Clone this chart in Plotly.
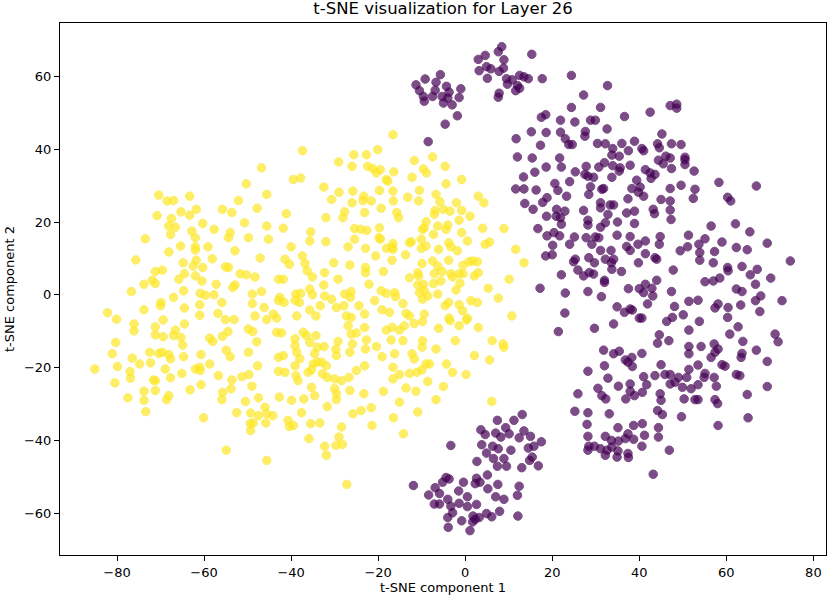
import plotly.graph_objects as go

# label 1 (yellow) points
yellow_x = [
    -11.7, -7.5, -9.6, -8.9, -4.6, -12.2, -4.4, -0.8, -10.5, -6.7, -10.7, -5.8, 3.0, 4.3, -2.0, -6.9, -7.1, -5.0, -3.5, -0.8,
    1.1, -1.4, -9.0, -9.4, -9.8, -6.3, -4.4, -4.0, 4.0, 8.9, -7.3, -0.8, 0.5, -10.1, 4.6, 5.6, -3.8, -3.3, -9.0, -10.1,
    -12.4, -6.1, -1.8, 11.6, 13.5, -3.8, -9.9, -7.5, 0.9, 1.7, 2.8, -0.5, -6.3, -10.9, -10.7, -7.1, -5.3, -3.3, -2.9, -1.4,
    -0.5, 2.1, 3.0, 10.1, -12.8, -5.6, -7.3, -1.2, -10.9, -9.6, 5.3, -2.1, -10.5, -9.4, -8.6, -9.8, -6.3, 1.3, 2.8, 7.6,
    -4.6, -3.8, -1.4, -0.6, -9.4, -12.8, -3.7, 0.5, 10.7,
    -16.6, -37.4, -25.6, -22.7, -20.1, -29.1, -26.0, -22.4, -21.2, -19.5, -20.4, -16.4, -39.5, -37.8, -18.1, -17.8, -32.5,
    -29.0, -30.7, -25.8, -23.3, -23.5, -21.6, -19.7, -16.6, -16.5, -13.2, -26.0, -41.1, -27.7, -28.1, -32.0, -23.1, -19.3,
    -15.7, -15.3, -41.8, -35.5, -35.7, -25.4, -24.0, -22.6, -19.7, -19.8, -19.5, -32.0, -25.4, -16.6, -18.1, -16.8, -12.8,
    -40.0, -26.9, -22.9, -37.4, -41.4, -40.4, -30.2, -26.5, -20.6, -16.8, -16.6, -13.7, -22.9, -22.9, -36.8, -36.3, -32.3,
    -35.1, -29.2, -18.8, -22.1, -19.3, -18.1, -16.2, -32.5, -42.9, -41.8, -38.9, -37.8, -38.1, -39.1, -35.7, -35.1, -32.3,
    -30.7, -27.7, -26.2, -26.4, -24.4, -23.1, -20.8, -16.0, -14.3, -13.6, -19.1, -17.4, -42.6, -42.9, -41.6, -33.3, -29.6,
    -27.9, -27.3, -26.2, -38.7, -34.3, -35.7, -44.1, -43.3,
    -46.8, -50.3, -45.6, -70.4, -68.5, -67.0, -63.3, -52.1, -55.8, -53.6, -47.8, -70.8, -65.3, -63.3, -61.8, -67.5, -60.3,
    -50.7, -45.6, -68.1, -66.6, -67.7, -57.7, -62.8, -62.0, -54.0, -54.4, -49.8, -73.5, -45.2, -65.4, -62.0, -62.0, -59.1,
    -68.1, -52.9, -75.7, -64.8, -62.5, -61.8, -60.3, -58.1, -55.1, -54.4, -47.1, -71.2, -69.6, -71.9, -71.2, -65.8, -64.5,
    -62.0, -60.5, -51.7, -50.3, -48.3, -73.8, -76.7, -57.2, -53.4, -52.9, -64.7, -60.9, -59.7, -57.7, -67.0, -55.9, -48.9,
    -48.9, -46.8, -69.9, -70.0, -64.5, -61.0, -73.8, -82.2, -46.2, -61.0, -56.8, -80.1, -48.3,
    -76.1, -76.1, -71.2, -71.2, -69.4, -66.6, -67.0, -64.5, -65.3, -64.9, -69.4, -58.7, -58.0, -55.8, -54.5, -55.1, -53.1,
    -49.8, -48.8, -47.9, -45.6, -80.3, -81.1, -76.5, -74.8, -72.5, -72.3, -70.4, -69.6, -68.1, -67.7, -64.7, -60.7, -54.9,
    -54.0, -49.8, -85.1, -79.9, -77.0, -76.9, -80.5, -71.6, -71.2, -68.9, -67.7, -65.1, -62.0, -61.0, -60.9, -58.7, -56.7,
    -53.6, -51.3, -49.7, -47.7, -49.0, -60.7, -63.2, -73.8, -73.8, -71.2, -68.1, -68.6, -77.5, -73.4, -55.7, -55.9, -53.8,
    -50.5, -52.5, -47.5, -46.0, -47.5, -45.6, -49.3, -49.4, -49.3, -48.7, -45.8, -60.1, -54.9, -45.6,
    -43.3, -42.2, -39.1, -39.1, -38.7, -39.1, -38.0, -37.2, -36.5, -34.3, -35.7, -34.6, -34.0, -42.9, -41.8, -42.9, -41.4,
    -38.9, -38.4, -36.1, -34.9, -34.0, -35.3, -32.4, -29.7, -29.2, -29.6, -26.5, -25.9, -26.2, -26.9, -25.0, -23.1, -22.7,
    -22.9, -33.0, -31.9, -32.8, -31.7, -30.0, -28.4, -26.7, -25.0, -23.1, -30.0, -26.5, -23.3, -35.3, -34.6, -37.1, -39.9,
    -42.7, -44.2, -40.7, -39.5, -40.4, -37.6, -35.5, -33.4, -31.7, -29.6, -29.6, -28.4, -25.8, -23.9, -21.6, -35.9, -32.3,
    -31.9, -29.0, -29.7, -28.2, -27.2, -21.4, -19.1, -16.2, -16.6, -16.6, -18.8, -16.5, -14.2, -15.1, -13.6, -11.3, -12.8,
    -11.1, -9.9, -8.6, -5.0, -10.9, -6.7, -14.3, -12.2, -11.7, -9.9, -6.7, -4.3, -2.9, 0.2, -9.0, -8.2, -6.1, -3.5, -1.4,
    0.3, 3.0, -2.3, 2.1, 5.6, 6.2, 8.7, 8.9, 6.1, -9.8, -18.1, -16.8, -15.1, -14.0, -11.7, -9.8, -20.4, -17.0, -15.1,
]
yellow_y = [
    36.9, 37.9, 34.6, 33.5, 35.3, 32.3, 30.5, 31.7, 28.7, 27.6, 25.8, 25.6, 27.1, 25.3, 25.3, 23.2, 22.1, 23.5, 23.0, 23.2,
    21.6, 20.5, 20.1, 18.4, 18.0, 18.9, 18.0, 19.2, 18.3, 18.2, 16.6, 17.1, 14.8, 15.3, 13.9, 14.5, 14.3, 13.2, 13.4, 12.8,
    14.6, 12.5, 12.1, 12.5, 8.8, 9.5, 8.6, 9.3, 9.1, 9.3, 9.1, 8.1, 7.9, 6.1, 5.2, 5.8, 6.4, 5.8, 4.9, 5.8,
    5.8, 5.2, 6.1, 4.3, 4.7, 3.8, 3.1, 3.2, 2.7, 2.9, 1.8, 1.3, 0.6, 1.1, -0.3, -1.2, 0.2, -1.6, -2.1, -0.9,
    -3.0, -2.1, -2.7, -4.4, -5.3, -5.8, -6.4, -6.4, -5.8,
    44.0, 39.6, 38.5, 38.5, 39.9, 36.5, 35.3, 35.3, 34.7, 34.4, 33.5, 33.8, 31.7, 32.1, 31.7, 31.2, 29.6,
    28.2, 26.2, 28.5, 27.1, 25.9, 25.8, 28.7, 28.5, 25.8, 26.8, 25.3, 22.3, 22.8, 21.2, 21.2, 22.6, 23.8,
    22.6, 21.2, 18.3, 17.3, 14.8, 18.2, 18.0, 17.7, 18.4, 15.7, 15.3, 14.6, 15.3, 14.1, 12.8, 13.0, 14.3,
    13.2, 13.2, 12.8, 10.7, 9.8, 8.4, 8.8, 8.2, 10.7, 9.5, 12.5, 11.0, 7.5, 6.1, 8.6, 6.6, 6.1,
    4.9, 4.3, 6.4, 2.9, 1.1, 0.4, 0.6, 2.7, 4.3, 4.3, 0.2, 0.4, -2.1, -1.5, 1.6, 0.0, -0.3,
    -1.2, 0.2, 0.9, -0.7, -3.0, -5.3, -1.6, -0.5, -2.4, -5.1, -4.1, -4.8, -0.7, -1.6, -2.1, -3.0, -3.5,
    -3.0, -5.8, -6.2, -5.8, -5.8, -4.2, -5.3, -6.4,
    34.9, 30.5, 27.6, 27.4, 25.8, 25.9, 27.1, 25.9, 23.5, 22.6, 23.8, 21.8, 22.8, 21.9, 23.5, 21.0, 19.6,
    19.8, 18.9, 18.9, 18.6, 16.6, 18.0, 17.5, 15.7, 17.1, 15.7, 15.7, 15.4, 15.3, 13.4, 13.2, 12.3, 13.2,
    11.8, 12.1, 9.6, 8.8, 7.9, 9.5, 7.5, 9.9, 7.7, 7.5, 10.1, 6.4, 6.8, 4.0, 3.1, 4.3, 5.8,
    5.2, 3.8, 5.8, 5.5, 4.9, 2.9, 0.9, 2.9, 2.0, 2.7, 1.1, 0.4, -0.1, 0.0, -0.7, -2.1, 0.2,
    -2.4, 0.9, -2.1, -3.0, -3.6, -2.7, -4.1, -4.9, -3.5, -5.6, -5.1, -6.7, -5.8,
    -8.0, -9.9, -8.8, -11.0, -6.9, -9.7, -11.2, -8.0, -11.7, -13.8, -11.5, -11.9, -12.8, -11.4, -10.1, -6.8, -6.8,
    -9.4, -10.1, -12.9, -6.8, -13.1, -16.2, -17.4, -19.0, -15.8, -18.7, -16.1, -15.8, -16.4, -17.6, -17.0, -16.4, -15.2,
    -17.0, -15.8, -20.4, -19.7, -21.1, -22.9, -24.2, -23.4, -23.6, -20.4, -22.8, -21.6, -20.4, -19.9, -20.8, -19.0, -22.2,
    -23.4, -22.5, -21.9, -19.5, -25.1, -24.7, -26.1, -26.5, -29.0, -26.3, -27.7, -28.8, -28.3, -32.1, -26.8, -28.8, -25.8,
    -29.3, -32.4, -28.3, -30.9, -33.2, -32.7, -32.5, -35.4, -37.3, -35.2, -35.2, -33.8, -42.7, -45.5,
    -10.3, -10.5, -12.1, -14.0, -15.8, -19.5, -17.6, -10.3, -11.2, -11.2, -13.1, -16.2, -14.4, -17.2, -16.7, -21.0, -21.3,
    -22.2, -23.6, -21.3, -19.0, -18.5, -20.6, -14.2, -14.9, -12.8, -16.7, -15.8, -13.5, -10.8, -8.5, -10.5, -9.0, -12.4,
    -14.9, -18.5, -19.5, -21.7, -22.7, -23.1, -23.6, -22.7, -20.8, -19.5, -25.8, -26.3, -27.2, -25.4, -27.7, -28.6, -29.0,
    -28.1, -33.2, -34.5, -35.9, -36.2, -32.4, -35.4, -35.2, -30.7, -28.8, -27.2, -36.3, -32.7, -31.8, -31.0, -39.5, -41.6,
    -44.1, -39.1, -41.4, -41.1, -52.1, -35.9, -17.0, -16.2, -19.9, -23.1, -26.5, -33.8, -38.2, -29.5, -25.6, -26.5, -21.6,
    -21.3, -20.6, -23.8, -25.2, -32.2, -28.8, -12.6, -16.2, -17.6, -14.4, -14.9, -19.0, -21.3, -21.9, -19.0, -19.0, -9.2, -7.1, -8.5,
    -6.9, -9.0, -12.6, -16.7, -17.9, -12.6, -13.5, -14.4, -29.3, -12.6, -9.7, -8.9, -9.7, -8.5, -7.9, -7.3, -14.2, -12.4, -21.9,
]

# label 0 (purple) points
purple_x = [
    13.1, 11.2, 7.4, 3.6, 4.6, 7.0, 9.3, 8.2, 10.1, 12.4, 13.5, 15.0, 17.5, 15.8, 14.5, 3.8, 6.3, 7.6, 10.5, 4.9,
    6.5, 8.9, 15.4, 14.8, 2.7, 7.4, 9.5, 13.0, 16.8, -3.3, 5.1, 2.6, -3.7, -4.4, -5.2, -0.4, 2.3, 3.4, 7.5, 12.4,
    -11.9, -6.9, -5.9, -8.4, -1.5, 5.2, 0.5, 7.0, 8.9, 12.0, -4.0, -7.1, -5.9, -3.3, -1.4, 0.5, 2.6, -2.9, -4.0, -0.8,
    1.8, 2.3, 3.2, 4.9, 6.1, 7.9, 12.1, -3.9, 1.1, 1.7,
    -11.3, -9.2, -10.5, -9.6, -9.4, -7.5, -6.7, -5.7, -6.9, -5.3, -5.0, -4.3, -3.7, -3.0, -4.0, -1.4, -1.0, -1.8, -4.6,
    -8.5, 3.0, 4.6, 3.2, 4.9, 5.9, 5.1, 7.6, 8.4, 8.9, 7.8, 8.8, 9.5, 9.7, 10.8, 12.0, 12.5, 13.5, 14.5, 11.6, 12.5,
    15.3, 17.7, 7.8, 7.6,
    24.4, 32.7, 27.2, 24.4, 31.1, 47.1, 48.6, 48.6, 42.5, 36.6, 17.5, 18.5, 21.9, 25.2, 28.8, 29.9, 32.6, 15.2, 18.6,
    21.9, 27.6, 27.5, 23.0, 23.8, 24.6, 45.2, 11.7, 17.3, 30.4, 32.2, 33.9, 36.0, 38.9, 40.6, 41.0, 37.5, 44.2, 44.6,
    47.4, 49.6, 33.7, 35.4, 12.0, 15.4, 21.7, 46.1, 47.1, 50.5, 50.5, 44.4, 22.1, 18.6, 27.8, 30.7, 32.0, 33.9, 35.6,
    35.4, 37.9, 41.4, 42.5, 43.6, 42.7, 45.5, 47.4, 50.5, 52.6, 16.0, 13.4, 25.3, 27.5, 28.2, 29.5, 33.7, 39.4, 58.3,
    66.9, 20.6, 24.0, 28.8, 31.4, 31.8, 38.3, 40.2, 39.8, 47.1, 49.6, 52.8, 11.6, 13.5, 16.3, 21.3, 18.8, 17.8, 23.3,
    28.4, 37.4, 41.0, 45.0, 52.4, 60.3, 61.0, 13.7, 15.6, 31.1, 31.1, 34.1, 33.3, 27.2, 21.0, 20.9, 22.9, 21.9, 22.1,
    18.7, 43.2, 43.5, 37.1, 38.9, 47.1, 47.1, 32.8, 28.2, 28.2, 32.2, 31.1, 35.0, 38.9, 47.3, 56.5, 62.1, 65.4, 69.4,
    16.7, 18.8, 20.4, 21.7, 25.1, 27.8, 29.9, 30.7, 34.9, 37.9, 44.8, 51.3, 55.1, 20.1, 24.0, 29.1, 31.1, 33.5, 37.1,
    37.9, 39.7, 41.4, 41.4, 44.6, 49.4, 51.1, 53.7, 53.9, 57.3, 59.0, 62.3, 64.8, 74.7, 18.5, 20.0, 25.3, 28.4, 32.2,
    34.1, 43.6,
    22.1, 25.9, 27.2, 28.5, 29.5, 24.9, 29.7, 32.0, 32.0, 33.7, 33.6, 35.9, 39.8, 44.0, 44.0, 47.8, 53.9, 57.0, 58.5,
    57.0, 55.1, 60.3, 60.4, 63.6, 65.5, 67.1, 66.7, 70.2, 17.2, 23.0, 28.2, 31.3, 37.5, 40.0, 41.0, 41.4, 42.9, 43.1,
    41.9, 47.4, 48.1, 51.4, 53.5, 50.1, 47.6, 46.3, 53.8, 57.4, 58.1, 60.4, 60.3, 62.3, 63.6, 63.3, 66.7, 67.9, 67.7,
    72.8, 62.7, 60.8, 63.8, 71.2, 71.9, 22.9, 21.4, 29.7, 34.1, 34.9, 36.6, 37.9, 38.4, 40.0, 40.6, 44.6, 44.2, 46.8,
    51.4, 51.4, 51.4, 54.2, 57.2, 58.1, 57.4, 56.5, 63.6, 63.4, 66.9, 69.4, 31.8, 34.1, 35.4, 36.8, 37.4, 38.3, 38.4,
    40.6, 32.0, 28.2, 32.8, 35.2, 37.9, 37.9, 38.9, 40.7, 41.7, 41.0, 30.5, 31.4, 32.3, 36.9, 25.9, 25.2, 28.2, 33.1,
    28.0, 28.2, 35.1, 38.7, 40.7, 41.2, 37.4, 36.8, 38.7, 32.2, 33.6, 35.2, 28.4, 29.7, 31.1, 32.6, 33.7, 35.1, 28.2,
    32.2, 34.9, 37.4, 37.5, 40.6, 44.4, 44.4, 44.2, 45.3, 46.9, 49.7, 58.1, 65.0, 45.0, 43.6, 45.9, 47.1, 49.0, 50.9,
    47.1, 48.2, 49.9, 51.9, 44.8, 45.0, 50.3, 52.8, 53.5, 53.5, 55.1, 54.9, 51.4, 53.5, 57.2, 57.7, 57.4, 58.0, 59.0,
    59.7, 62.3, 63.1, 64.8, 69.4, 43.2,
]
purple_y = [
    -32.9, -34.5, -34.5, -37.1, -38.4, -38.0, -36.5, -39.1, -38.2, -39.3, -37.4, -38.9, -40.4, -41.6, -42.1, -41.2, -41.6,
    -42.3, -42.7, -43.5, -45.0, -45.0, -44.6, -45.5, -45.8, -47.1, -47.1, -47.5, -47.0, -41.4, -49.5, -50.4, -50.6, -50.2,
    -51.5, -51.5, -51.9, -51.5, -52.1, -52.6, -52.4, -53.0, -54.6, -55.0, -53.9, -53.3, -55.5, -55.5, -56.2, -55.1, -56.2,
    -57.5, -57.5, -58.1, -57.3, -58.2, -57.6, -59.9, -61.2, -62.1, -60.8, -61.7, -61.2, -60.1, -61.0, -59.5, -60.8, -63.9,
    -64.8, -62.4,
    57.7, 59.3, 56.1, 54.5, 53.2, 54.5, 58.4, 60.5, 56.2, 54.5, 52.7, 57.3, 55.7, 52.2, 54.1, 54.2, 56.6, 49.2, 46.9,
    42.1, 64.7, 65.8, 61.6, 62.7, 62.1, 59.5, 66.8, 68.2, 64.6, 61.4, 62.3, 59.4, 57.9, 59.1, 57.5, 60.3, 59.9, 59.4, 56.1,
    56.8, 66.1, 59.4, 55.4, 54.3,
    60.3, 57.5, 54.9, 51.5, 51.5, 52.0, 52.4, 51.3, 50.2, 49.0, 48.8, 49.5, 48.0, 47.5, 48.0, 48.0, 45.6, 44.8, 44.6,
    44.7, 44.9, 43.6, 42.9, 41.3, 41.3, 44.2, 42.9, 41.1, 41.6, 41.5, 40.2, 41.6, 42.2, 40.2, 39.6, 39.6, 41.5, 40.4,
    41.5, 41.3, 38.4, 38.1, 37.9, 37.6, 37.6, 38.1, 37.6, 37.8, 37.1, 37.0, 35.1, 35.1, 35.3, 35.1, 36.3, 35.5, 34.9,
    34.0, 35.6, 34.4, 33.5, 33.1, 32.0, 36.0, 34.7, 35.8, 34.0, 33.7, 32.4, 33.8, 33.1, 32.6, 32.3, 32.3, 31.5, 30.9,
    29.9, 30.6, 31.1, 29.7, 29.0, 29.2, 29.2, 29.6, 28.2, 29.2, 30.1, 29.0, 29.1, 29.1, 28.8, 28.7, 26.7, 25.4, 27.1,
    27.6, 26.4, 27.1, 26.2, 26.5, 26.8, 25.8, 25.1, 23.5, 25.3, 23.9, 24.7, 24.7, 23.2, 23.5, 21.6, 23.0, 21.2, 19.4,
    21.6, 23.5, 22.3, 22.5, 23.0, 25.8, 23.3, 22.1, 20.5, 19.2, 19.8, 18.6, 20.0, 19.6, 20.7, 18.9, 19.5, 17.3, 14.2,
    18.2, 16.2, 17.1, 16.2, 15.9, 15.7, 15.9, 15.7, 16.4, 16.0, 16.0, 16.4, 15.4, 13.6, 13.9, 13.9, 12.2, 12.2, 13.3,
    12.2, 13.9, 14.8, 11.3, 13.9, 12.1, 13.2, 13.9, 11.6, 11.9, 14.5, 13.0, 12.4, 9.3, 10.7, 11.0, 9.8, 10.2, 9.8,
    9.8, 10.2,
    5.5, 6.8, 5.2, 6.1, 5.7, 9.1, 8.8, 4.0, 3.4, 7.0, 8.8, 6.4, 8.8, 4.0, 9.8, 6.8, 9.5, 8.8, 4.6,
    3.8, 3.6, 7.5, 6.6, 7.8, 5.5, 7.0, 2.9, 4.6, 1.8, 0.5, 0.9, -0.5, 1.7, 1.7, 0.6, 2.9, 1.8, -0.3,
    -2.5, 0.9, -3.2, -1.8, -1.5, -5.5, -6.2, -7.3, -7.3, -3.6, -2.5, -3.5, -6.2, 1.6, 0.9, -2.8, -1.6, -0.3, -4.6,
    -1.6, -8.8, -10.8, -12.8, -10.8, -12.9, -5.0, -10.1, -9.2, -8.0, -3.3, -4.8, -3.9, -4.2, -6.4, -6.4, -11.0, -13.3, -12.6,
    -9.7, -14.2, -16.2, -14.2, -13.5, -14.9, -15.8, -17.2, -16.1, -17.2, -15.2, -18.3, -15.2, -16.2, -15.5, -17.9, -18.5, -17.2, -19.7,
    -16.1, -19.5, -21.0, -22.9, -25.1, -24.5, -26.5, -27.7, -26.8, -24.7, -22.5, -25.7, -27.7, -28.6, -28.6, -27.2, -32.0, -32.4, -32.7,
    -35.6, -38.9, -36.5, -35.9, -35.4, -38.6, -38.2, -39.5, -39.7, -38.9, -40.0, -40.2, -41.6, -41.6, -42.3, -42.7, -41.8, -42.9, -42.7,
    -44.1, -44.6, -43.6, -44.7, -41.6, -36.5, -39.1, -31.8, -32.9, -42.7, -33.5, -35.9, -33.8, -19.2, -22.2, -21.9, -21.9, -22.7, -22.7,
    -24.5, -24.0, -25.4, -25.8, -27.2, -29.0, -28.6, -28.8, -28.8, -24.7, -21.6, -22.7, -20.5, -19.3, -22.7, -25.1, -28.8, -29.9, -19.2,
    -19.6, -21.9, -22.2, -27.4, -25.2, -49.3,
]

font = "DejaVu Sans"

fig = go.Figure()
fig.add_trace(go.Scatter(x=purple_x, y=purple_y, mode="markers",
                         marker=dict(size=8.5, color="#440154", opacity=0.7,
                                     line=dict(width=1, color="#440154"))))
fig.add_trace(go.Scatter(x=yellow_x, y=yellow_y, mode="markers",
                         marker=dict(size=8.5, color="#fde725", opacity=0.7,
                                     line=dict(width=1, color="#fde725"))))

axis = dict(showgrid=False, zeroline=False, showline=True, linecolor="black", linewidth=1,
            mirror=True, ticks="outside", ticklen=5, tickwidth=1, tickcolor="black",
            automargin=False, tickfont=dict(family=font, size=13, color="black"))

fig.update_layout(
    width=830, height=599,
    margin=dict(l=59.5, r=3.5, t=22.7, b=44.3),
    paper_bgcolor="white", plot_bgcolor="white",
    showlegend=False,
    font=dict(family=font, size=13, color="black"),
    title=dict(text="t-SNE visualization for Layer 26", x=0.5, xanchor="center",
               xref="paper", y=0.986, yanchor="middle", font=dict(family=font, size=16.5)),
    xaxis=dict(axis, range=[-93.1, 82.9], tickvals=[-80, -60, -40, -20, 0, 20, 40, 60, 80],
               title=dict(text="t-SNE component 1", standoff=4, font=dict(family=font, size=13))),
    yaxis=dict(axis, range=[-71.5, 74.7], tickvals=[-60, -40, -20, 0, 20, 40, 60],
               title=dict(text="t-SNE component 2", standoff=6, font=dict(family=font, size=13))),
)

# the page body has a default 8px margin; drop it so the figure fills the window
fig.write_html("out.html", config={"displayModeBar": False},
               post_script="document.body.style.margin='0';")
